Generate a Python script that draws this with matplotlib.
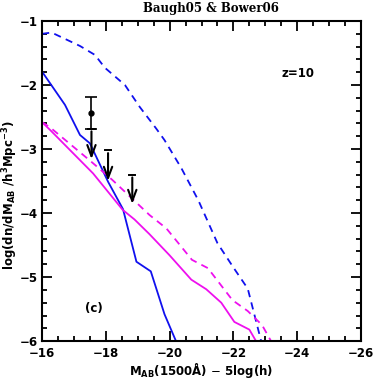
import matplotlib
matplotlib.use("Agg")
import matplotlib.pyplot as plt
from matplotlib.ticker import MultipleLocator

# Baugh05 (blue) solid / dashed
blue_solid_x = [-16.0, -16.72, -17.19, -17.5, -18.07, -18.54, -18.96, -19.41, -19.84, -20.2]
blue_solid_y = [-1.79, -2.31, -2.78, -2.91, -3.51, -3.94, -4.76, -4.91, -5.58, -6.0]

blue_dash_x = [-16.0, -16.3, -17.19, -17.66, -17.97, -18.6, -19.06, -19.58, -19.84, -20.37, -20.9, -21.5, -22.0, -22.45, -22.87]
blue_dash_y = [-1.2, -1.18, -1.39, -1.53, -1.73, -2.0, -2.34, -2.68, -2.86, -3.30, -3.8, -4.47, -4.85, -5.18, -6.0]

# Bower06 (magenta) solid / dashed
mag_solid_x = [-16.0, -16.25, -17.6, -18.53, -18.9, -19.37, -20.0, -20.68, -21.15, -21.62, -22.03, -22.5, -22.71]
mag_solid_y = [-2.58, -2.70, -3.38, -3.95, -4.1, -4.33, -4.66, -5.04, -5.19, -5.40, -5.70, -5.82, -6.0]

mag_dash_x = [-16.0, -16.25, -17.55, -18.2, -19.37, -19.9, -20.7, -21.2, -21.97, -22.45, -22.9, -23.18]
mag_dash_y = [-2.58, -2.66, -3.2, -3.48, -4.03, -4.24, -4.73, -4.86, -5.36, -5.53, -5.75, -6.0]

# observational points
pt_x = -17.55
pt_y = -2.43
pt_hi = -2.19
pt_lo = -2.68
lim_x = [-17.55, -18.07, -18.83]
lim_top = [-2.68, -3.02, -3.40]
lim_tip = [-3.2, -3.54, -3.90]

fig = plt.figure(figsize=(3.82, 3.82), dpi=100)
ax = fig.add_axes([0.110, 0.107, 0.835, 0.838])

ax.plot(blue_solid_x, blue_solid_y, color="#1010ee", lw=1.3)
ax.plot(blue_dash_x, blue_dash_y, color="#1010ee", lw=1.3, ls=(0, (4, 3)))
ax.plot(mag_solid_x, mag_solid_y, color="#ee10ee", lw=1.3)
ax.plot(mag_dash_x, mag_dash_y, color="#ee10ee", lw=1.3, ls=(0, (4, 3)))

# data point with error bar
ax.errorbar([pt_x], [pt_y], yerr=[[pt_y - pt_lo], [pt_hi - pt_y]], fmt="o", color="black",
            ms=3.5, capsize=4, lw=1.2, capthick=1.2)
for x, top, tip in zip(lim_x, lim_top, lim_tip):
    ax.plot([x - 0.1, x + 0.1], [top, top], color="black", lw=1.4)
    ax.annotate("", xy=(x, tip), xytext=(x, top),
                arrowprops=dict(arrowstyle="->,head_length=0.8,head_width=0.3", color="black", lw=1.5))

ax.set_xlim(-16, -26)
ax.set_ylim(-6, -1)
ax.xaxis.set_major_locator(MultipleLocator(2))
ax.xaxis.set_minor_locator(MultipleLocator(0.5))
ax.yaxis.set_major_locator(MultipleLocator(1))
ax.yaxis.set_minor_locator(MultipleLocator(0.2))
ax.tick_params(which="both", direction="in", top=True, right=True, width=1.3)
ax.tick_params(which="major", length=7, labelsize=8.5, pad=3)
ax.tick_params(axis="x", which="major", pad=4)
ax.tick_params(which="minor", length=3.5)
for lab in ax.get_xticklabels() + ax.get_yticklabels():
    lab.set_fontweight("bold")
for s in ax.spines.values():
    s.set_linewidth(1.5)

ax.set_xlabel(r"M$_{\mathbf{AB}}$(1500Å) $-$ 5log(h)", fontsize=8.5, fontweight="bold", labelpad=1)
ax.set_ylabel(r"log(dn/dM$_{\mathbf{AB}}$ /h$^{\mathbf{3}}$Mpc$^{\mathbf{-3}}$)", fontsize=8.5, fontweight="bold")
ax.yaxis.set_label_coords(-0.068, 0.456)
fig.text(0.553, 0.979, "Baugh05 & Bower06", fontsize=8.5, fontweight="bold",
         family="DejaVu Serif", ha="center", va="center")
ax.text(-23.5, -1.88, "z=10", fontsize=8.5, fontweight="bold")
ax.text(-17.35, -5.55, "(c)", fontsize=8.5, fontweight="bold")

fig.savefig("out.png", dpi=100)
